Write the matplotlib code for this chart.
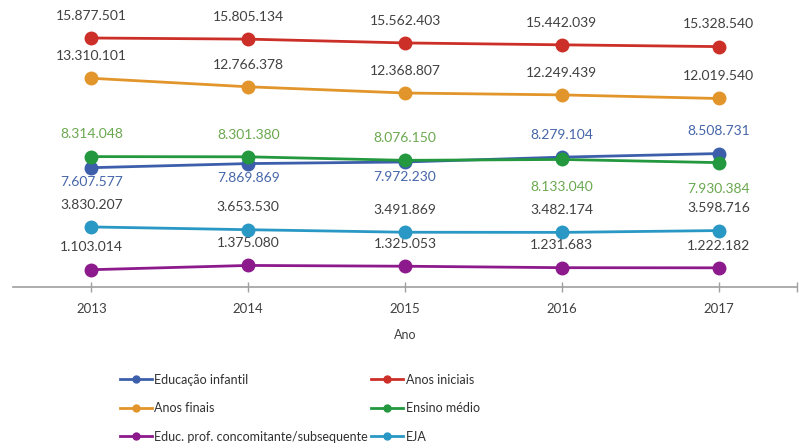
import matplotlib
matplotlib.use("Agg")
import matplotlib.pyplot as plt
from matplotlib.lines import Line2D

plt.rcParams['font.family'] = ['Lato', 'DejaVu Sans']

years = [2013, 2014, 2015, 2016, 2017]
educ_infantil = [7607577, 7869869, 7972230, 8279104, 8508731]
anos_iniciais = [15877501, 15805134, 15562403, 15442039, 15328540]
anos_finais = [13310101, 12766378, 12368807, 12249439, 12019540]
ensino_medio = [8314048, 8301380, 8076150, 8133040, 7930384]
educ_prof = [1103014, 1375080, 1325053, 1231683, 1222182]
eja = [3830207, 3653530, 3491869, 3482174, 3598716]

# (name, values, line color, label color, label offsets in points)
series = [
    ("Educação infantil", educ_infantil, "#3d5fab", "#4666a8", [-10.5, -10.5, -10.5, 16, 16]),
    ("Anos iniciais", anos_iniciais, "#cc2f27", "#404040", [16, 16, 16, 16, 16]),
    ("Anos finais", anos_finais, "#e2952a", "#404040", [16, 16, 16, 16, 16]),
    ("Ensino médio", ensino_medio, "#23983f", "#6aa84f", [16, 16, 16, -19.5, -19]),
    ("Educ. prof. concomitante/subsequente", educ_prof, "#8c1a8c", "#404040", [16, 16, 16, 16, 16]),
    ("EJA", eja, "#2a98c4", "#404040", [16, 16, 16, 16, 16]),
]

def fmt(v):
    return f"{v:,}".replace(",", ".")

fig = plt.figure(figsize=(7.99, 4.48), dpi=100)
ax = fig.add_axes([13/799, 1 - 287/448, (797 - 13)/799, 287/448])

for name, vals, col, lcol, offs in series:
    ax.plot(years, vals, color=col, lw=2.0, marker='o', markersize=9, zorder=3)
    for x, v, dy in zip(years, vals, offs):
        ax.annotate(fmt(v), (x, v), xytext=(0, dy), textcoords='offset points',
                    ha='center', va='center', fontsize=10, color=lcol)

ax.set_xlim(2012.5, 2017.5)
ax.set_ylim(0, 18300000)
for s in ['top', 'right', 'left']:
    ax.spines[s].set_visible(False)
ax.spines['bottom'].set_color('#a0a0a0')
ax.spines['bottom'].set_linewidth(1.2)
ax.set_yticks([])
ax.set_xticks(years + [2017.5])
ax.set_xticklabels([str(y) for y in years] + [""], fontsize=9.5, color='#404040')
ax.tick_params(axis='x', direction='inout', length=7, color='#a0a0a0', width=1, pad=8)
ax.set_xlabel("Ano", fontsize=9, color='#404040', labelpad=10)

handles = {}
for name, vals, col, lcol, offs in series:
    handles[name] = Line2D([], [], color=col, lw=2.0, marker='o', markersize=5)
order = ["Educação infantil", "Anos finais", "Educ. prof. concomitante/subsequente",
         "Anos iniciais", "Ensino médio", "EJA"]
leg = fig.legend([handles[n] for n in order], order, ncol=2, loc='center',
                 bbox_to_anchor=(0.375, 0.089), frameon=False, fontsize=9,
                 handlelength=2.6, handletextpad=0.2, columnspacing=0.2,
                 labelspacing=1.33)
for t in leg.get_texts():
    t.set_color('#303030')

fig.savefig("out.png", dpi=100)
